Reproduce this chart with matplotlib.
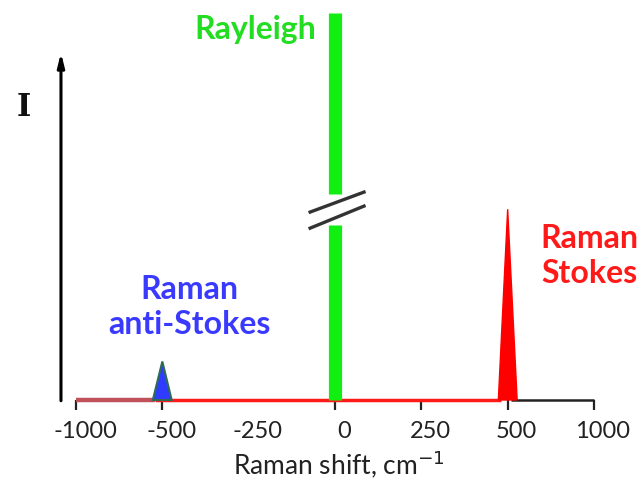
import matplotlib.pyplot as plt
import matplotlib.transforms as mtransforms
import numpy as np

# tick positions (evenly spaced on the picture, not linear in cm-1)
tick_values = [-1000, -500, -250, 0, 250, 500, 1000]
tick_labels = ['-1000', '-500', '-250', '0', '250', '500', '1000']

# peaks: position, height (axis fraction), left/right base
peak_names = ['anti-Stokes', 'Rayleigh', 'Stokes']
peak_pos = [-500, 0, 500]
peak_height = [0.11, 1.105, 0.545]
peak_left = [-555, 0, 473]
peak_right = [-473, 0, 555]

# Rayleigh break (axis fraction)
break_low, break_high = 0.50, 0.59

idx = np.arange(len(tick_values))


def fwd(x):
    return np.interp(x, tick_values, idx)


def inv(x):
    return np.interp(x, idx, tick_values)


fig = plt.figure(figsize=(6.43, 4.82), dpi=100)
ax = fig.add_axes([76 / 643, 82 / 482, 518 / 643, 350 / 482])
ax.set_xscale('function', functions=(fwd, inv))
ax.set_xlim(-1000, 1000)
ax.set_ylim(0, 1)
for s in ax.spines.values():
    s.set_visible(False)
ax.set_yticks([])

# baseline
ax.plot([-1000, -540], [0, 0], color='#c0505a', lw=3.2, solid_capstyle='butt', clip_on=False, zorder=2)
ax.plot([-540, 480], [0, 0], color='#ff1a1a', lw=2.5, solid_capstyle='butt', clip_on=False, zorder=2)
ax.plot([520, 1000], [0, 0], color='#222222', lw=1.8, solid_capstyle='butt', clip_on=False, zorder=2)

ax.set_xticks(tick_values)
ax.set_xticklabels(tick_labels, family='Lato', fontsize=17, color='#222222')
ax.tick_params(axis='x', direction='out', length=7, width=1.6, color='#222222', pad=8)
ax.xaxis.get_major_ticks()[2].tick1line.set_visible(False)
offset = mtransforms.ScaledTranslation(9 / 100, 0, fig.dpi_scale_trans)
for lab in ax.get_xticklabels():
    lab.set_transform(lab.get_transform() + offset)
fig.text(339 / 643, 1 - 474 / 482, 'Raman shift, cm$^{\\mathsf{-1}}$', family='Lato', fontsize=19,
         color='#222222', ha='center', va='baseline')

# anti-Stokes peak
ax.fill([peak_left[0], peak_pos[0], peak_right[0]], [0, peak_height[0], 0],
        facecolor='#2f3cff', edgecolor='#2e6b55', lw=1.5, zorder=3, clip_on=False)
# Stokes peak
ax.fill([peak_left[2], peak_pos[2], peak_right[2]], [0, peak_height[2], 0],
        facecolor='#ff0000', edgecolor='#ff0000', lw=1, zorder=3, clip_on=False)
# Rayleigh line with break
ax.plot([peak_pos[1], peak_pos[1]], [0, break_low], color='#11ee11', lw=9.5,
        solid_capstyle='butt', zorder=3, clip_on=False)
ax.plot([peak_pos[1], peak_pos[1]], [break_high, peak_height[1]], color='#11ee11', lw=9.5,
        solid_capstyle='butt', zorder=3, clip_on=False)
ax.plot([-72, 84], [0.537, 0.594], color='#333333', lw=2.4, zorder=4)
ax.plot([-72, 84], [0.491, 0.554], color='#333333', lw=2.4, zorder=4)

# intensity arrow
ax.annotate('', xy=(-0.029, 1.0), xytext=(-0.029, -0.01), xycoords='axes fraction',
            arrowprops=dict(arrowstyle='-|>,head_width=0.2,head_length=0.8', color='black', lw=2.2),
            annotation_clip=False)
fig.text(24 / 643, 1 - 108 / 482, 'I', family='DejaVu Serif', fontweight='bold', fontsize=22,
         ha='center', va='center', color='#111111')

# labels
fig.text(255 / 643, 1 - 30 / 482, 'Rayleigh', family='Lato', fontweight='bold', fontsize=23,
         ha='center', va='center', color='#22dd22')
fig.text(589 / 643, 1 - 256 / 482, 'Raman\nStokes', family='Lato', fontweight='bold', fontsize=23,
         ha='center', va='center', color='#ff1a1a', linespacing=1.25)
fig.text(189 / 643, 1 - 307 / 482, 'Raman\nanti-Stokes', family='Lato', fontweight='bold', fontsize=23,
         ha='center', va='center', color='#3a3aff', linespacing=1.25)

plt.savefig('out.png', dpi=100, facecolor='white')
plt.close()
